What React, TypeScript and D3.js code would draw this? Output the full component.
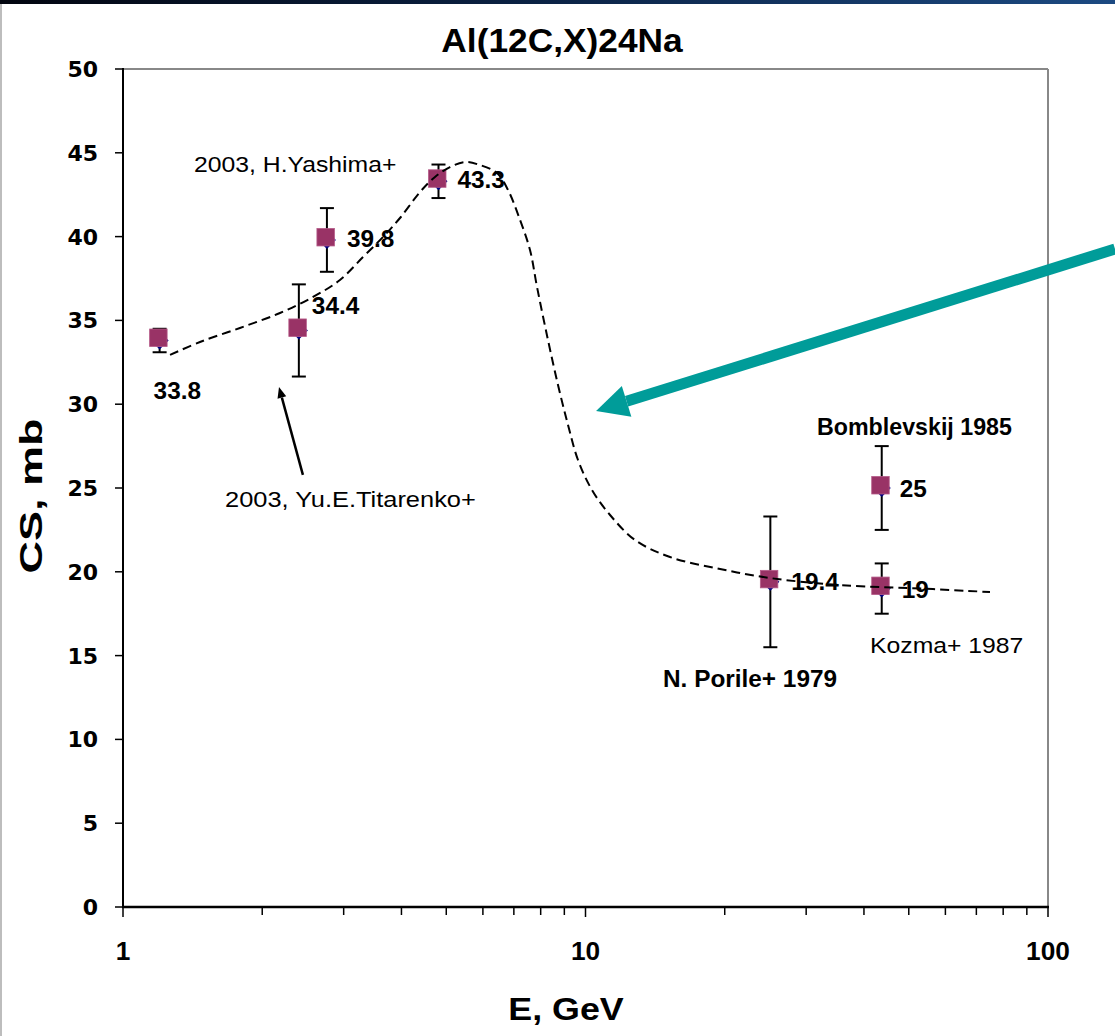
import React from "react";
import * as d3 from "d3";

const W = 1115;
const H = 1036;

// Measured cross sections for Al(12C,X)24Na
const energies = [1.2, 2.4, 2.76, 4.81, 25.1, 43.7, 43.7];
const crossSections = [33.8, 34.4, 39.8, 43.3, 19.4, 25, 19];
const errors = [0.7, 2.75, 1.9, 1.0, 3.9, 2.5, 1.5];
const valueLabels = ["33.8", "34.4", "39.8", "43.3", "19.4", "25", "19"];

// Calculated excitation function (dashed curve)
const curveE = [1.264, 1.467, 1.79, 2.185, 2.576, 2.945, 3.303, 3.649, 3.971, 4.387, 4.727, 5.093, 5.489, 5.914, 6.437, 6.8, 7.219, 7.586, 7.856, 8.296, 8.721, 9.167, 9.634, 10.33, 11.3, 12.79, 15.23, 19.54, 25.05, 35.51, 56.41, 74.92];
const curveCS = [32.94, 33.71, 34.55, 35.44, 36.4, 37.41, 38.78, 39.98, 41.11, 42.66, 43.56, 44.15, 44.45, 44.27, 43.79, 42.78, 40.99, 39.2, 36.99, 33.83, 31.15, 28.76, 26.67, 24.88, 23.39, 21.9, 20.88, 20.17, 19.63, 19.21, 18.97, 18.79];

const yTicks = [0, 5, 10, 15, 20, 25, 30, 35, 40, 45, 50];
const xMajorTicks = [1, 10, 100];
const xTickLabels = ["1", "10", "100"];
const xMinorTicks = [2, 3, 4, 5, 6, 7, 8, 9, 20, 30, 40, 50, 60, 70, 80, 90];

// Teal pointer arrow, [E, CS] of tail and tip
const pointerTail = [139.6, 39.26];
const pointerTip = [10.54, 29.6];
// Black pointer to the Titarenko point
const titarenkoTail = [2.449, 25.78];
const titarenkoTip = [2.174, 31.03];

// label placement relative to each marker, pixels
const labelOffsets = [[-6, 58], [13, -16], [20, 7], [19, 7], [21, 8], [18, 9], [20, 9]];

const plot = { left: 123, right: 1048, top: 69, bottom: 907 };
const SANS = "'Liberation Sans', Arial, sans-serif";

function Txt({ x, y, children, size = 23, bold = false, sx = 1.08, anchor = "start", family = SANS, rotate = 0 }: any) {
  return (
    <text
      transform={`translate(${x},${y}) rotate(${rotate}) scale(${sx},1)`}
      textAnchor={anchor}
      fontFamily={family}
      fontSize={size}
      fontWeight={bold ? "bold" : "normal"}
      fill="#000"
    >
      {children}
    </text>
  );
}

export default function App() {
  const x = d3.scaleLog().domain([1, 100]).range([plot.left, plot.right]);
  const y = d3.scaleLinear().domain([0, 50]).range([plot.bottom, plot.top]);

  const line = d3
    .line<number>()
    .x((_, i) => x(curveE[i]))
    .y((d) => y(d))
    .curve(d3.curveCatmullRom.alpha(0.5));
  const curvePath = line(curveCS) || "";

  // teal arrow geometry
  const tx0 = x(pointerTail[0]), ty0 = y(pointerTail[1]);
  const tx1 = x(pointerTip[0]), ty1 = y(pointerTip[1]);
  const len = Math.hypot(tx0 - tx1, ty0 - ty1);
  const ux = (tx0 - tx1) / len, uy = (ty0 - ty1) / len;
  const headLen = 32, headHalf = 16;
  const bx = tx1 + ux * headLen, by = ty1 + uy * headLen;
  const head = [
    [tx1, ty1],
    [bx - uy * headHalf, by + ux * headHalf],
    [bx + uy * headHalf, by - ux * headHalf],
  ];

  // black arrow geometry
  const ax0 = x(titarenkoTail[0]), ay0 = y(titarenkoTail[1]);
  const ax1 = x(titarenkoTip[0]), ay1 = y(titarenkoTip[1]);
  const al = Math.hypot(ax0 - ax1, ay0 - ay1);
  const vx = (ax0 - ax1) / al, vy = (ay0 - ay1) / al;
  const hb = 11, hh = 4.5;
  const abx = ax1 + vx * hb, aby = ay1 + vy * hb;
  const smallHead = [
    [ax1, ay1],
    [abx - vy * hh, aby + vx * hh],
    [abx + vy * hh, aby - vx * hh],
  ];

  return (
    <>
      <style>{`body{margin:0}`}</style>
      <svg width={W} height={H} style={{ display: "block", background: "#fff" }}>
        <defs>
          <linearGradient id="band" x1="0" x2="1" y1="0" y2="0">
            <stop offset="0" stopColor="#02050f" />
            <stop offset="0.5" stopColor="#0b2346" />
            <stop offset="1" stopColor="#1c4a82" />
          </linearGradient>
        </defs>
        <rect x={0} y={0} width={W} height={4} fill="url(#band)" />
        <rect x={0} y={4} width={2} height={H - 4} fill="#bdbdbd" />

        {/* title */}
        <Txt x={562} y={52} size={33} bold sx={1.07} anchor="middle">Al(12C,X)24Na</Txt>

        {/* frame */}
        <line x1={plot.left} x2={plot.right} y1={plot.top} y2={plot.top} stroke="#888" strokeWidth={2} />
        <line x1={plot.right} x2={plot.right} y1={plot.top} y2={plot.bottom} stroke="#888" strokeWidth={2} />

        {/* y axis */}
        <line x1={plot.left} x2={plot.left} y1={plot.top - 1} y2={plot.bottom + 1} stroke="#000" strokeWidth={2} />
        {yTicks.map((t) => (
          <g key={t}>
            <line x1={plot.left - 8} x2={plot.left} y1={y(t)} y2={y(t)} stroke="#000" strokeWidth={1.5} />
            <text x={98} y={y(t) + 8} textAnchor="end" fontFamily="'DejaVu Sans', sans-serif" fontWeight="bold" fontSize={22} fill="#000">
              {t}
            </text>
          </g>
        ))}

        {/* x axis */}
        <line x1={plot.left - 1} x2={plot.right + 1} y1={plot.bottom} y2={plot.bottom} stroke="#000" strokeWidth={2.5} />
        {xMinorTicks.map((t) => (
          <line key={t} x1={x(t)} x2={x(t)} y1={plot.bottom} y2={plot.bottom + 8} stroke="#000" strokeWidth={1.5} />
        ))}
        {xMajorTicks.map((t, i) => (
          <g key={t}>
            <line x1={x(t)} x2={x(t)} y1={plot.bottom} y2={plot.bottom + 10} stroke="#000" strokeWidth={1.5} />
            <Txt x={x(t)} y={960} size={25} bold sx={1.05} anchor="middle">{xTickLabels[i]}</Txt>
          </g>
        ))}

        {/* axis titles */}
        <Txt x={566} y={1020} size={32} bold sx={1.12} anchor="middle">E, GeV</Txt>
        <Txt x={42} y={496} size={31} bold sx={1.45} anchor="middle" rotate={-90}>CS, mb</Txt>

        {/* error bars */}
        {energies.map((e, i) => {
          const cx = x(e);
          const yt = y(crossSections[i] + errors[i]);
          const yb = y(crossSections[i] - errors[i]);
          return (
            <g key={i} stroke="#000" strokeWidth={2}>
              <line x1={cx} x2={cx} y1={yt} y2={yb} />
              <line x1={cx - 7} x2={cx + 7} y1={yt} y2={yt} />
              <line x1={cx - 7} x2={cx + 7} y1={yb} y2={yb} />
            </g>
          );
        })}

        {/* markers */}
        {energies.map((e, i) => {
          const cx = x(e);
          const cy = y(crossSections[i]);
          return (
            <g key={i}>
              <path d={`M${cx},${cy - 9}L${cx + 9},${cy}L${cx},${cy + 9}L${cx - 9},${cy}Z`} fill="#000080" />
              <rect x={cx - 10} y={cy - 11.5} width={17.5} height={17.5} fill="#993366" stroke="#b55a88" strokeWidth={0.8} />
            </g>
          );
        })}

        {/* value labels */}
        {energies.map((e, i) => (
          <Txt key={i} x={x(e) + labelOffsets[i][0]} y={y(crossSections[i]) + labelOffsets[i][1]} size={23} bold sx={1.06}>
            {valueLabels[i]}
          </Txt>
        ))}

        {/* dashed curve */}
        <path d={curvePath} fill="none" stroke="#000" strokeWidth={2} strokeDasharray="9,5" />

        {/* annotations */}
        <Txt x={194} y={172} size={22.5} sx={1.1}>2003, H.Yashima+</Txt>
        <Txt x={225} y={507} size={22.5} sx={1.13}>2003, Yu.E.Titarenko+</Txt>
        <Txt x={817} y={435} size={23} bold sx={1.01}>Bomblevskij 1985</Txt>
        <Txt x={870} y={653} size={22.5} sx={1.1}>Kozma+ 1987</Txt>
        <Txt x={663} y={687} size={23} bold sx={1.06}>N. Porile+ 1979</Txt>

        <line x1={ax0} y1={ay0} x2={abx} y2={aby} stroke="#000" strokeWidth={2.5} />
        <polygon points={smallHead.map((p) => p.join(",")).join(" ")} fill="#000" />

        <line x1={tx0} y1={ty0} x2={bx} y2={by} stroke="#009c99" strokeWidth={11} />
        <polygon points={head.map((p) => p.join(",")).join(" ")} fill="#009c99" />
      </svg>
    </>
  );
}
